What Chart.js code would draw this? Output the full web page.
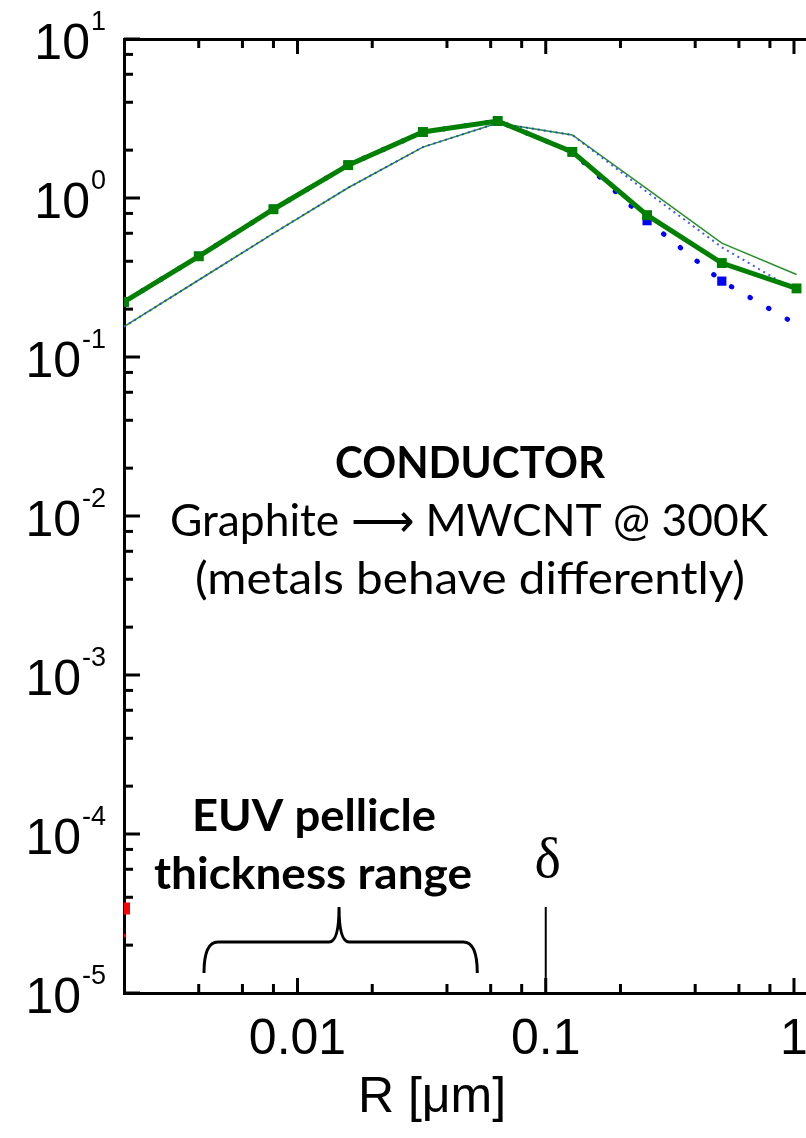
<!DOCTYPE html>
<html>
<head>
<meta charset="utf-8">
<script src="https://cdn.jsdelivr.net/npm/chart.js@4.4.1/dist/chart.umd.min.js"></script>
<style>
  html, body { margin: 0; padding: 0; background: #fff; }
  #wrap { width: 806px; height: 1138px; }
</style>
</head>
<body>
<div id="wrap"><canvas id="chart" width="806" height="1138"></canvas></div>
<script>
// R [um] sample points shared by the curves
const radius = [0.002, 0.004, 0.008, 0.016, 0.032, 0.064, 0.128, 0.256, 0.512, 1.024];
// thick green with squares
const mwcntThick = [0.222, 0.43, 0.85, 1.61, 2.60, 3.05, 1.95, 0.78, 0.39, 0.27];
// thin green solid
const mwcntThin = [0.155, 0.305, 0.60, 1.16, 2.09, 2.96, 2.49, 1.14, 0.52, 0.33];
// light blue dotted (follows thin line)
const thinDotted = [0.155, 0.305, 0.60, 1.16, 2.09, 2.96, 2.49, 1.09, 0.49, 0.26];
// blue dotted with squares (follows thick line, drops off on the right)
const thickDotted = [0.222, 0.43, 0.85, 1.61, 2.60, 3.05, 1.95, 0.72, 0.30, 0.16];
// red marks peeking in at the left edge
const redR = [0.002, 0.002];
const redValues = [3.4e-5, 2.3e-5];

const xMajorTicks = [0.01, 0.1, 1];
const xTickLabels = ['0.01', '0.1', '1'];
const xMinorTicks = [0.004, 0.006, 0.008, 0.02, 0.04, 0.06, 0.08, 0.2, 0.4, 0.6, 0.8];
const yExponents = [1, 0, -1, -2, -3, -4, -5];
const yMinorMantissas = [2, 4, 6, 8];

const deltaR = 0.1;
const pellicleRange = [0.0042, 0.053];
const braceTip = 0.0147;

const xMin = 0.002, xMax = 1.118;
const yMin = 1e-5, yMax = 10;

const pts = (xs, ys) => xs.map((r, i) => ({ x: r, y: ys[i] }));

function line(ctx, x1, y1, x2, y2) {
    ctx.beginPath();
    ctx.moveTo(x1, y1);
    ctx.lineTo(x2, y2);
    ctx.stroke();
}

// draw text at a given height, squeezed to a given width (Calibri-ish look)
function fittedText(ctx, text, cx, baseline, font, width) {
    ctx.font = font;
    const w = ctx.measureText(text).width;
    ctx.save();
    ctx.translate(cx, baseline);
    ctx.scale(width / w, 1);
    ctx.textAlign = 'center';
    ctx.textBaseline = 'alphabetic';
    ctx.fillText(text, 0, 0);
    ctx.restore();
}

const inwardTicks = {
    id: 'inwardTicks',
    beforeDatasetsDraw(chart) {
        const { ctx, chartArea: a, scales: { x, y } } = chart;
        ctx.save();
        ctx.strokeStyle = '#000';
        ctx.lineWidth = 3;
        const xt = (v, len) => {
            const px = x.getPixelForValue(v);
            line(ctx, px, a.bottom, px, a.bottom - len);
            line(ctx, px, a.top, px, a.top + len);
        };
        xMajorTicks.forEach(v => xt(v, 15));
        xMinorTicks.forEach(v => xt(v, 9));
        const yt = (v, len) => {
            const py = y.getPixelForValue(v);
            line(ctx, a.left, py, a.left + len, py);
        };
        yExponents.forEach(e => {
            yt(Math.pow(10, e), 16);
            if (e > -5) yMinorMantissas.forEach(m => yt(m * Math.pow(10, e - 1), 9));
        });
        ctx.restore();
    }
};

const overlay = {
    id: 'overlay',
    afterDraw(chart) {
        const { ctx, chartArea: a, scales: { x, y } } = chart;
        ctx.save();
        ctx.fillStyle = '#000';
        ctx.strokeStyle = '#000';

        // y tick labels 10^n
        yExponents.forEach(e => {
            const py = y.getPixelForValue(Math.pow(10, e));
            const sup = String(e);
            ctx.font = '27px "Liberation Sans", Arial, sans-serif';
            const supW = ctx.measureText(sup).width;
            ctx.textAlign = 'left';
            ctx.textBaseline = 'alphabetic';
            const supX = 106 - supW;
            ctx.fillText(sup, supX, py - 9);
            ctx.font = '50px "Liberation Sans", Arial, sans-serif';
            ctx.textAlign = 'right';
            ctx.fillText('10', supX - 1, py + 20);
        });

        // x tick labels
        ctx.font = '50px "Liberation Sans", Arial, sans-serif';
        ctx.textAlign = 'center';
        xMajorTicks.forEach((v, i) => {
            ctx.fillText(xTickLabels[i], x.getPixelForValue(v), 1054);
        });

        // axis title
        ctx.fillText('R [\u03BCm]', 432, 1112);

        // annotations
        fittedText(ctx, 'CONDUCTOR', 470, 478, 'bold 44px Lato, "Open Sans", sans-serif', 270);
        fittedText(ctx, 'Graphite \u27F6 MWCNT @ 300K', 469, 536, '44px Lato, "Open Sans", sans-serif', 598);
        fittedText(ctx, '(metals behave differently)', 470, 594, '44px Lato, "Open Sans", sans-serif', 550);
        fittedText(ctx, 'EUV pellicle', 314, 831, 'bold 44px Lato, "Open Sans", sans-serif', 244);
        fittedText(ctx, 'thickness range', 313, 889, 'bold 44px Lato, "Open Sans", sans-serif', 318);

        // delta marker
        const dx = x.getPixelForValue(deltaR);
        ctx.font = '56px "Liberation Serif", "Times New Roman", serif';
        ctx.textAlign = 'center';
        ctx.fillText('\u03B4', dx + 2, 877);
        ctx.lineWidth = 2;
        line(ctx, dx, 907, dx, a.bottom);

        // brace over the pellicle range
        const b0 = x.getPixelForValue(pellicleRange[0]);
        const b1 = x.getPixelForValue(pellicleRange[1]);
        const bm = x.getPixelForValue(braceTip);
        const yb = 973, yh = 942, yt = 907;
        ctx.lineWidth = 3;
        ctx.beginPath();
        ctx.moveTo(b0, yb);
        ctx.quadraticCurveTo(b0, yh, b0 + 14, yh);
        ctx.lineTo(bm - 10, yh);
        ctx.quadraticCurveTo(bm, yh, bm, yt);
        ctx.quadraticCurveTo(bm, yh, bm + 10, yh);
        ctx.lineTo(b1 - 14, yh);
        ctx.quadraticCurveTo(b1, yh, b1, yb);
        ctx.stroke();

        ctx.restore();
    }
};

const axisBorder = { display: true, color: '#000', width: 3 };

const config = {
    type: 'line',
    data: {
        datasets: [
            {
                data: pts(radius, mwcntThick),
                borderColor: '#008000',
                backgroundColor: '#008000',
                borderWidth: 5,
                pointStyle: 'rect',
                pointRadius: 7,
                pointBorderWidth: 0,
                clip: 0
            },
            {
                data: pts(radius, thinDotted),
                borderColor: 'rgba(30,60,255,0.85)',
                borderWidth: 2,
                borderDash: [2, 4],
                pointRadius: 0,
                clip: 0
            },
            {
                data: pts(radius, thickDotted),
                borderColor: '#0000ff',
                backgroundColor: '#0000ff',
                borderWidth: 5,
                borderDash: [0.5, 21],
                borderCapStyle: 'round',
                pointStyle: 'rect',
                pointRadius: [6.5, 6.5, 6.5, 6.5, 6.5, 6.5, 6.5, 6.5, 6.5, 0],
                pointBorderWidth: 0,
                clip: 0
            },
            {
                data: pts(radius, mwcntThin),
                borderColor: '#2a8f2a',
                borderWidth: 1.5,
                pointRadius: 0,
                clip: 0
            },
            {
                data: pts(redR, redValues),
                showLine: false,
                pointStyle: ['rect', 'circle'],
                pointRadius: [8.5, 2],
                pointBorderWidth: 0,
                backgroundColor: '#ff0000',
                borderColor: '#ff0000',
                clip: 0
            }
        ]
    },
    options: {
        responsive: false,
        devicePixelRatio: 1,
        animation: false,
        layout: { autoPadding: false, padding: { left: 124, top: 39, right: 0, bottom: 145 } },
        plugins: {
            legend: { display: false },
            tooltip: { enabled: false }
        },
        scales: {
            x: {
                type: 'logarithmic',
                position: 'bottom',
                min: xMin,
                max: xMax,
                ticks: { display: false },
                grid: { display: false, drawTicks: false },
                border: axisBorder
            },
            x2: {
                type: 'logarithmic',
                position: 'top',
                min: xMin,
                max: xMax,
                ticks: { display: false },
                grid: { display: false, drawTicks: false },
                border: axisBorder
            },
            y: {
                type: 'logarithmic',
                min: yMin,
                max: yMax,
                ticks: { display: false },
                grid: { display: false, drawTicks: false },
                border: axisBorder
            }
        }
    },
    plugins: [inwardTicks, overlay]
};

new Chart(document.getElementById('chart'), config);
</script>
</body>
</html>
